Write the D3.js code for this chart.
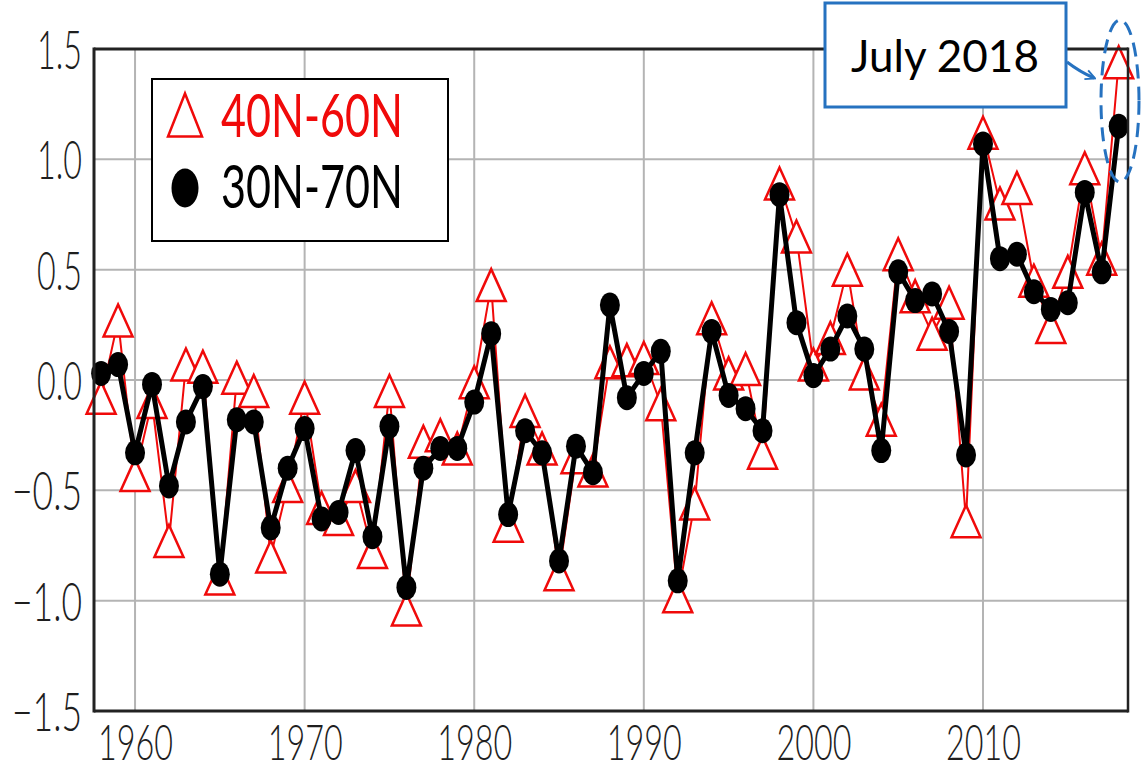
<!DOCTYPE html>
<html>
<head>
<meta charset="utf-8">
<script src="https://cdn.jsdelivr.net/npm/d3@7"></script>
<style>
  body { margin: 0; background: #fff; }
  svg { display: block; }
</style>
</head>
<body>
<svg id="chart" width="1144" height="771"></svg>
<script>
// anomaly values
var years = d3.range(1958, 2019);
var lat40to60 = [-0.08, 0.27, -0.43, -0.10, -0.73, 0.07, 0.06, -0.90, 0.01, -0.05,
                 -0.80, -0.48, -0.08, -0.58, -0.63, -0.48, -0.78, -0.05, -1.04, -0.28,
                 -0.25, -0.31, -0.01, 0.43, -0.66, -0.14, -0.31, -0.88, -0.35, -0.41,
                 0.08, 0.09, 0.10, -0.11, -0.98, -0.56, 0.28, 0.03, 0.05, -0.33,
                 0.89, 0.65, 0.07, 0.19, 0.50, 0.03, -0.18, 0.57, 0.38, 0.21,
                 0.35, -0.64, 1.12, 0.80, 0.87, 0.45, 0.24, 0.49, 0.96, 0.55, 1.44];
var lat30to70 = [0.03, 0.07, -0.33, -0.02, -0.48, -0.19, -0.03, -0.88, -0.18, -0.19,
                 -0.67, -0.40, -0.22, -0.63, -0.60, -0.32, -0.71, -0.21, -0.94, -0.40,
                 -0.31, -0.31, -0.10, 0.21, -0.61, -0.23, -0.33, -0.82, -0.30, -0.42,
                 0.34, -0.08, 0.03, 0.13, -0.91, -0.33, 0.22, -0.07, -0.13, -0.23,
                 0.84, 0.26, 0.02, 0.14, 0.29, 0.14, -0.32, 0.49, 0.36, 0.39,
                 0.22, -0.34, 1.07, 0.55, 0.57, 0.40, 0.32, 0.35, 0.85, 0.49, 1.15];
var xTicks = [1960, 1970, 1980, 1990, 2000, 2010];
var yTicks = [-1.5, -1.0, -0.5, 0.0, 0.5, 1.0, 1.5];
var seriesNames = ["40N-60N", "30N-70N"];
var noteText = "July 2018";

var margin = {top: 49, right: 16, bottom: 60, left: 94};
var width = 1144 - margin.left - margin.right;
var height = 771 - margin.top - margin.bottom;

var xScale = d3.scaleLinear()
    .domain([1957.58, 2018.55])
    .range([0, width]);

var yScale = d3.scaleLinear()
    .domain([-1.5, 1.5])
    .range([height, 0]);

var svg = d3.select("#chart");
var plot = svg.append("g")
    .attr("transform", "translate(" + margin.left + "," + margin.top + ")");

var red = "#f00a0a";
var blue = "#2672c0";

// grid
var drawGrid = function() {
    var grid = plot.append("g").attr("class", "grid");
    grid.selectAll("line.h")
        .data(yTicks.slice(1, -1))
        .enter()
        .append("line")
        .attr("x1", 0)
        .attr("x2", width)
        .attr("y1", function(d) { return yScale(d); })
        .attr("y2", function(d) { return yScale(d); })
        .attr("stroke", "#b4b4b4")
        .attr("stroke-width", 2);
    grid.selectAll("line.v")
        .data(xTicks)
        .enter()
        .append("line")
        .attr("x1", function(d) { return xScale(d); })
        .attr("x2", function(d) { return xScale(d); })
        .attr("y1", 0)
        .attr("y2", height)
        .attr("stroke", "#b4b4b4")
        .attr("stroke-width", 2);
};

var drawAxes = function() {
    var fmt = d3.format(".1f");
    var yAxis = d3.axisLeft(yScale)
        .tickValues(yTicks)
        .tickFormat(fmt)
        .tickSize(0)
        .tickPadding(12);
    var xAxis = d3.axisBottom(xScale)
        .tickValues(xTicks)
        .tickFormat(d3.format("d"))
        .tickSize(0)
        .tickPadding(13);

    var gy = plot.append("g").call(yAxis);
    gy.select(".domain").remove();
    gy.selectAll("text")
        .attr("font-family", "Lato, 'Liberation Sans Narrow', sans-serif")
        .attr("font-weight", 300)
        .attr("font-size", 54)
        .attr("fill", "#1e1e1e")
        .attr("dy", "0.36em")
        .attr("textLength", function(d) { return d < 0 ? 70 : 45; })
        .attr("lengthAdjust", "spacingAndGlyphs");

    var gx = plot.append("g")
        .attr("transform", "translate(0," + height + ")")
        .call(xAxis);
    gx.select(".domain").remove();
    gx.selectAll("text")
        .attr("font-family", "Lato, 'Liberation Sans Narrow', sans-serif")
        .attr("font-weight", 300)
        .attr("font-size", 50)
        .attr("fill", "#1e1e1e")
        .attr("dy", "0.71em")
        .attr("textLength", 75)
        .attr("lengthAdjust", "spacingAndGlyphs");

    // frame
    plot.append("line").attr("x1", 0).attr("x2", width).attr("y1", 0).attr("y2", 0)
        .attr("stroke", "#222").attr("stroke-width", 3);
    plot.append("line").attr("x1", 0).attr("x2", width).attr("y1", height).attr("y2", height)
        .attr("stroke", "#222").attr("stroke-width", 3);
    plot.append("line").attr("x1", 0).attr("x2", 0).attr("y1", -1.5).attr("y2", height + 1.5)
        .attr("stroke", "#222").attr("stroke-width", 3);
    plot.append("line").attr("x1", width).attr("x2", width).attr("y1", -1.5).attr("y2", height + 1.5)
        .attr("stroke", "#222").attr("stroke-width", 2.5);
};

var triPath = function(w, h) {
    return "M0," + (-h / 2) + "L" + (w / 2) + "," + (h / 2) + "L" + (-w / 2) + "," + (h / 2) + "Z";
};

var drawSeries = function() {
    var redData = years.map(function(y, i) { return {year: y, value: lat40to60[i]}; });
    var blackData = years.map(function(y, i) { return {year: y, value: lat30to70[i]}; });

    var line = d3.line()
        .x(function(d) { return xScale(d.year); })
        .y(function(d) { return yScale(d.value); });

    plot.append("path")
        .datum(redData)
        .attr("d", line)
        .attr("fill", "none")
        .attr("stroke", red)
        .attr("stroke-width", 2);

    plot.selectAll("path.tri")
        .data(redData)
        .enter()
        .append("path")
        .attr("class", "tri")
        .attr("d", triPath(29, 32))
        .attr("transform", function(d) {
            return "translate(" + xScale(d.year) + "," + yScale(d.value) + ")";
        })
        .attr("fill", "#fff")
        .attr("stroke", red)
        .attr("stroke-width", 2.5);

    plot.append("path")
        .datum(blackData)
        .attr("d", line)
        .attr("fill", "none")
        .attr("stroke", "#000")
        .attr("stroke-width", 5)
        .attr("stroke-linejoin", "round");

    plot.selectAll("ellipse.dot")
        .data(blackData)
        .enter()
        .append("ellipse")
        .attr("class", "dot")
        .attr("cx", function(d) { return xScale(d.year); })
        .attr("cy", function(d) { return yScale(d.value); })
        .attr("rx", 10)
        .attr("ry", 12.5)
        .attr("fill", "#000");
};

var drawLegend = function() {
    var lg = svg.append("g");
    lg.append("rect")
        .attr("x", 152).attr("y", 79)
        .attr("width", 296).attr("height", 162)
        .attr("fill", "#fff")
        .attr("stroke", "#000")
        .attr("stroke-width", 2);
    lg.append("path")
        .attr("d", triPath(34, 43))
        .attr("transform", "translate(185,115)")
        .attr("fill", "#fff")
        .attr("stroke", red)
        .attr("stroke-width", 2.5);
    lg.append("ellipse")
        .attr("cx", 185).attr("cy", 188)
        .attr("rx", 13.5).attr("ry", 19.5)
        .attr("fill", "#000");
    lg.append("text")
        .attr("x", 221).attr("y", 137)
        .attr("font-family", "Lato, sans-serif")
        .attr("font-size", 60)
        .attr("fill", red)
        .attr("textLength", 182)
        .attr("lengthAdjust", "spacingAndGlyphs")
        .text(seriesNames[0]);
    lg.append("text")
        .attr("x", 221).attr("y", 208)
        .attr("font-family", "Lato, sans-serif")
        .attr("font-size", 60)
        .attr("fill", "#000")
        .attr("textLength", 182)
        .attr("lengthAdjust", "spacingAndGlyphs")
        .text(seriesNames[1]);
};

var drawNote = function() {
    var note = svg.append("g");
    svg.append("defs").append("marker")
        .attr("id", "arrow")
        .attr("viewBox", "0 0 10 10")
        .attr("refX", 8).attr("refY", 5)
        .attr("markerWidth", 4).attr("markerHeight", 4)
        .attr("orient", "auto")
        .append("path")
        .attr("d", "M1,1L9,5L1,9")
        .attr("fill", "none")
        .attr("stroke", blue)
        .attr("stroke-width", 1.6);

    note.append("ellipse")
        .attr("cx", 1120).attr("cy", 101)
        .attr("rx", 19).attr("ry", 81)
        .attr("fill", "none")
        .attr("stroke", blue)
        .attr("stroke-width", 3)
        .attr("stroke-dasharray", "14,8");

    note.append("rect")
        .attr("x", 825).attr("y", 3)
        .attr("width", 241).attr("height", 104)
        .attr("fill", "#fff")
        .attr("stroke", blue)
        .attr("stroke-width", 3);

    note.append("text")
        .attr("x", 945).attr("y", 72)
        .attr("text-anchor", "middle")
        .attr("font-family", "Lato, 'Open Sans', sans-serif")
        .attr("font-size", 44)
        .attr("fill", "#000")
        .text(noteText);

    note.append("path")
        .attr("d", "M1067,62Q1080,72 1094,78")
        .attr("fill", "none")
        .attr("stroke", blue)
        .attr("stroke-width", 3)
        .attr("marker-end", "url(#arrow)");
};

drawGrid();
drawSeries();
drawAxes();
drawLegend();
drawNote();
</script>
</body>
</html>
